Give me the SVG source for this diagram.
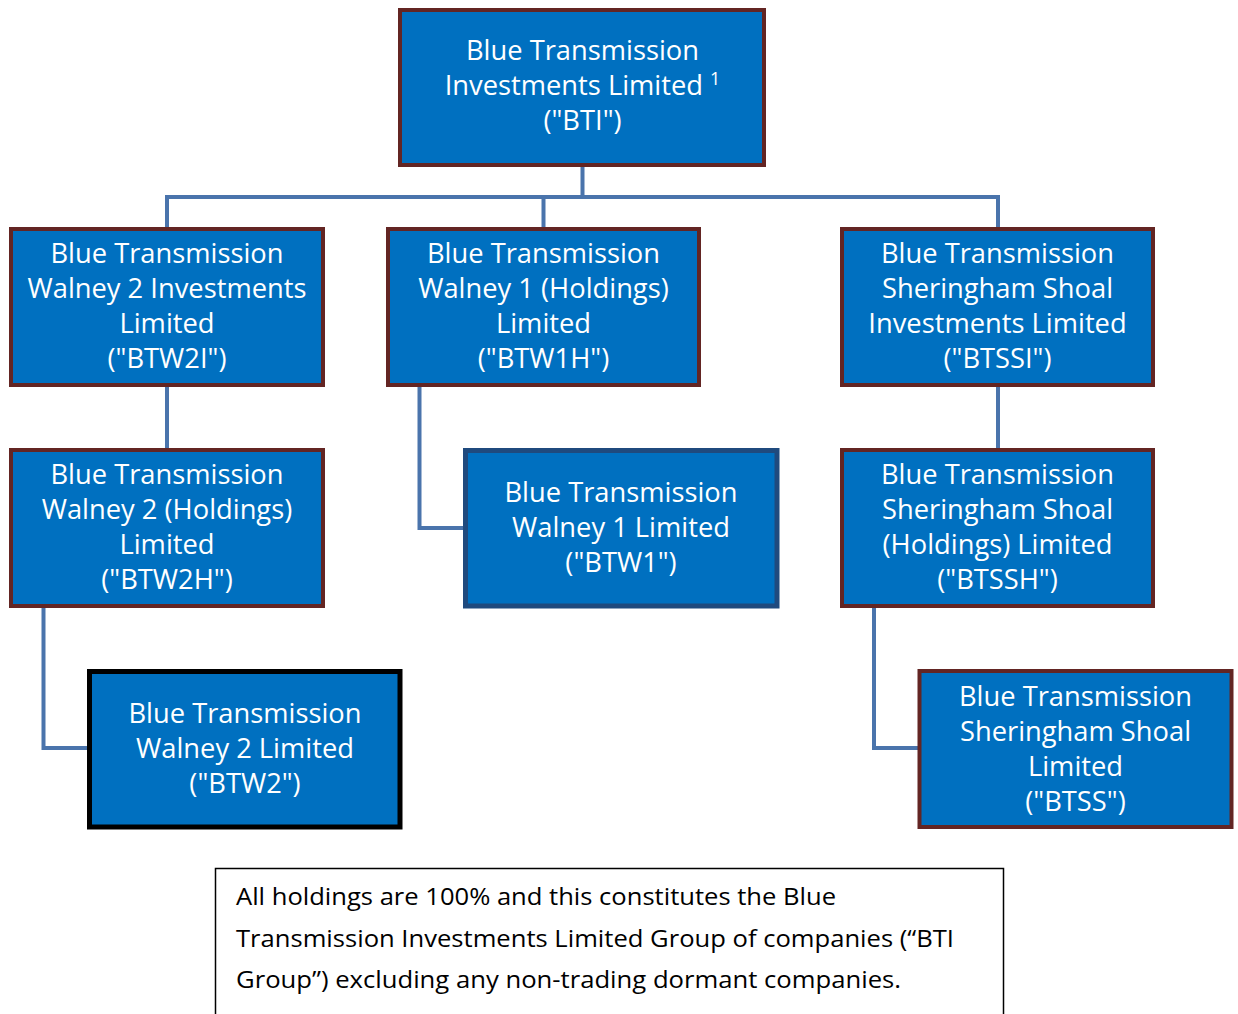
<svg xmlns="http://www.w3.org/2000/svg" width="1238" height="1014" viewBox="0 0 1238 1014">
<style>
.box{fill:#0070C0;stroke:#632523;stroke-width:4}
.bb{stroke:#1F4A7E;stroke-width:5}
.bk{stroke:#000;stroke-width:5}
.t{font-family:"Open Sans","DejaVu Sans",sans-serif;font-size:27.3px;fill:#fff;text-anchor:middle}
.c{fill:none;stroke:#4A74AC;stroke-width:4}
.n{font-family:"Open Sans","DejaVu Sans",sans-serif;font-size:23px;fill:#000}
</style>
<rect width="1238" height="1014" fill="#fff"/>
<g id="connectors">
<path class="c" d="M582.5,165 V197 M167,227 V197 H998 V227 M543.5,197 V227"/>
<path class="c" d="M167,387 V448"/>
<path class="c" d="M998,387 V448"/>
<path class="c" d="M419.5,387 V528 H463"/>
<path class="c" d="M43.5,608 V748 H88"/>
<path class="c" d="M874,608 V748 H918"/>
</g>
<g id="BTI">
<rect class="box" x="400" y="10" width="364" height="155"/>
<text class="t" x="582.5" y="60">Blue Transmission</text>
<text class="t" x="582.5" y="95">Investments Limited <tspan font-size="18" dy="-10">1</tspan></text>
<text class="t" x="582.5" y="130">("BTI")</text>
</g>
<g id="BTW2I">
<rect class="box" x="11" y="229" width="312" height="156"/>
<text class="t" x="167" y="263">Blue Transmission</text>
<text class="t" x="167" y="298">Walney 2 Investments</text>
<text class="t" x="167" y="333">Limited</text>
<text class="t" x="167" y="368">("BTW2I")</text>
</g>
<g id="BTW1H">
<rect class="box" x="388" y="229" width="311" height="156"/>
<text class="t" x="543.5" y="263">Blue Transmission</text>
<text class="t" x="543.5" y="298">Walney 1 (Holdings)</text>
<text class="t" x="543.5" y="333">Limited</text>
<text class="t" x="543.5" y="368">("BTW1H")</text>
</g>
<g id="BTSSI">
<rect class="box" x="842" y="229" width="311" height="156"/>
<text class="t" x="997.5" y="263">Blue Transmission</text>
<text class="t" x="997.5" y="298">Sheringham Shoal</text>
<text class="t" x="997.5" y="333">Investments Limited</text>
<text class="t" x="997.5" y="368">("BTSSI")</text>
</g>
<g id="BTW2H">
<rect class="box" x="11" y="450" width="312" height="156"/>
<text class="t" x="167" y="484">Blue Transmission</text>
<text class="t" x="167" y="519">Walney 2 (Holdings)</text>
<text class="t" x="167" y="554">Limited</text>
<text class="t" x="167" y="589">("BTW2H")</text>
</g>
<g id="BTW1">
<rect class="box bb" x="465.5" y="450.5" width="311.5" height="155.5"/>
<text class="t" x="621" y="502">Blue Transmission</text>
<text class="t" x="621" y="537">Walney 1 Limited</text>
<text class="t" x="621" y="572">("BTW1")</text>
</g>
<g id="BTSSH">
<rect class="box" x="842" y="450" width="311" height="156"/>
<text class="t" x="997.5" y="484">Blue Transmission</text>
<text class="t" x="997.5" y="519">Sheringham Shoal</text>
<text class="t" x="997.5" y="554">(Holdings) Limited</text>
<text class="t" x="997.5" y="589">("BTSSH")</text>
</g>
<g id="BTW2">
<rect class="box bk" x="89.5" y="671.5" width="310.5" height="155.5"/>
<text class="t" x="245" y="723">Blue Transmission</text>
<text class="t" x="245" y="758">Walney 2 Limited</text>
<text class="t" x="245" y="793">("BTW2")</text>
</g>
<g id="BTSS">
<rect class="box" x="919.5" y="671" width="312" height="156"/>
<text class="t" x="1075.5" y="706">Blue Transmission</text>
<text class="t" x="1075.5" y="741">Sheringham Shoal</text>
<text class="t" x="1075.5" y="776">Limited</text>
<text class="t" x="1075.5" y="811">("BTSS")</text>
</g>
<g id="note">
<rect x="215.5" y="868.5" width="788" height="160" fill="#fff" stroke="#000" stroke-width="1.5"/>
<text class="n" x="236" y="905" textLength="600" lengthAdjust="spacingAndGlyphs">All holdings are 100% and this constitutes the Blue</text>
<text class="n" x="236" y="947" textLength="718" lengthAdjust="spacingAndGlyphs">Transmission Investments Limited Group of companies (“BTI</text>
<text class="n" x="236" y="988" textLength="665" lengthAdjust="spacingAndGlyphs">Group”) excluding any non-trading dormant companies.</text>
</g>
</svg>
